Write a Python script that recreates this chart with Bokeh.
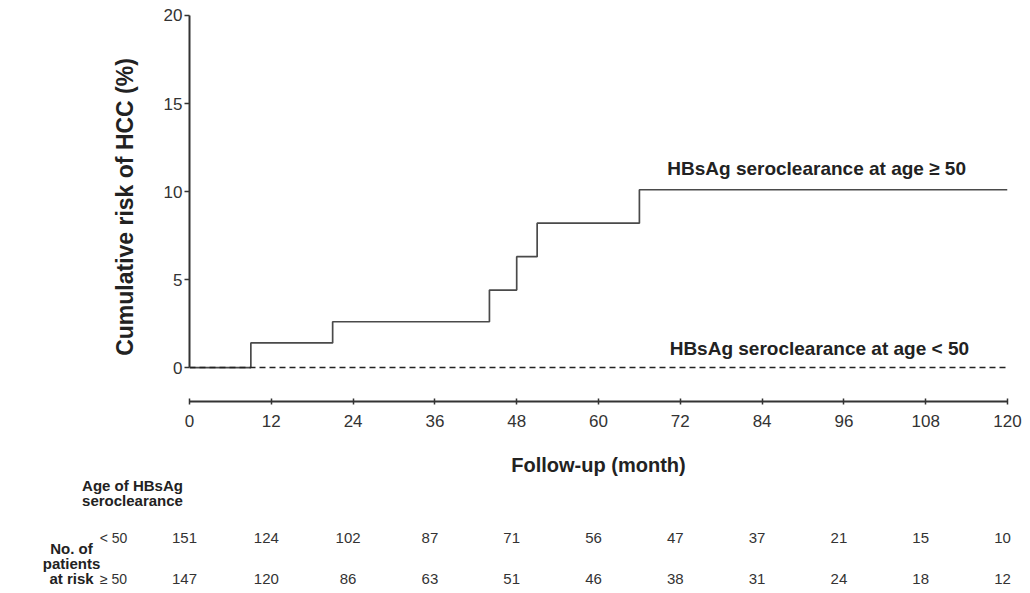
from bokeh.plotting import figure
from bokeh.models import Range1d, FixedTicker, Label
from bokeh.embed import file_html
from bokeh.resources import INLINE
from bokeh.core.properties import value

# ---------------- data ----------------
month_ticks = [0, 12, 24, 36, 48, 60, 72, 84, 96, 108, 120]
risk_ticks = [0, 5, 10, 15, 20]

ge50_time = [0, 9, 21, 44, 48, 51, 66, 120]
ge50_risk = [0, 1.4, 2.6, 4.4, 6.3, 8.2, 10.1, 10.1]

lt50_time = [0, 120]
lt50_risk = [0, 0]

at_risk_lt50 = [151, 124, 102, 87, 71, 56, 47, 37, 21, 15, 10]
at_risk_ge50 = [147, 120, 86, 63, 51, 46, 38, 31, 24, 18, 12]

label_ge50 = "HBsAg seroclearance at age \u2265 50"
label_lt50 = "HBsAg seroclearance at age < 50"
row_labels = ["< 50", "\u2265 50"]
group_title = ["Age of HBsAg", "seroclearance"]
risk_title = ["No. of", "patients", "at risk"]

FONT = "Liberation Sans"

# ---------------- geometry (page pixels) ----------------
W = 1022
H_MAIN = 478
H_TAB = 112
F_LEFT, F_RIGHT, F_TOP, F_BOTTOM = 189, 1007, 12, 401
X0, X1 = 0, 120
Y0, Y1 = -1.93, 20.17
XS = (F_RIGHT - F_LEFT) / (X1 - X0)


def xd(xpage):
    return X0 + (xpage - F_LEFT) / XS


# ---------------- main chart ----------------
p = figure(width=W, height=H_MAIN, x_range=Range1d(X0, X1), y_range=Range1d(Y0, Y1),
           output_backend="svg", toolbar_location=None,
           min_border_left=F_LEFT, min_border_right=W - F_RIGHT,
           min_border_top=F_TOP, min_border_bottom=H_MAIN - F_BOTTOM)
p.outline_line_color = None
p.xgrid.visible = False
p.ygrid.visible = False

p.step(ge50_time, ge50_risk, mode="after", line_color="#4a4a4a", line_width=1.7)
p.line(lt50_time, lt50_risk, line_color="#222222", line_width=1.6, line_dash="6 4")

p.add_layout(Label(x=92, y=11.3, text=label_ge50, text_align="center", text_baseline="middle",
                   text_font=FONT, text_font_size="19px", text_font_style="bold", text_color="#222222"))
p.add_layout(Label(x=92.4, y=1.08, text=label_lt50, text_align="center", text_baseline="middle",
                   text_font=FONT, text_font_size="19px", text_font_style="bold", text_color="#222222"))

xa = p.xaxis[0]
xa.bounds = (0, 120)
xa.ticker = FixedTicker(ticks=month_ticks)
xa.axis_line_color = "#333333"
xa.axis_line_width = 2
xa.major_tick_line_color = "#333333"
xa.major_tick_line_width = 1.5
xa.major_tick_in = 3
xa.major_tick_out = 3
xa.minor_tick_line_color = None
xa.major_label_text_font = FONT
xa.major_label_text_font_size = "17px"
xa.major_label_text_color = "#333333"
xa.major_label_standoff = 10
xa.axis_label = "Follow-up (month)"
xa.axis_label_text_font = FONT
xa.axis_label_text_font_size = "20px"
xa.axis_label_text_font_style = "bold"
xa.axis_label_text_color = "#222222"
xa.axis_label_standoff = 24

ya = p.yaxis[0]
ya.bounds = (0, 20)
ya.ticker = FixedTicker(ticks=risk_ticks)
ya.axis_line_color = "#333333"
ya.axis_line_width = 2
ya.major_tick_line_color = "#333333"
ya.major_tick_line_width = 1.5
ya.major_tick_in = 0
ya.major_tick_out = 5
ya.minor_tick_line_color = None
ya.major_label_text_font = FONT
ya.major_label_text_font_size = "17px"
ya.major_label_text_color = "#333333"
ya.major_label_standoff = 2
ya.axis_label = "Cumulative risk of HCC (%)"
ya.axis_label_text_font = FONT
ya.axis_label_text_font_size = "23px"
ya.axis_label_text_font_style = "bold"
ya.axis_label_text_color = "#222222"
ya.axis_label_standoff = 23

# ---------------- number-at-risk table (separate root, same x scale) ----------------
TOP_TAB = H_MAIN
t = figure(width=W, height=H_TAB, x_range=Range1d(xd(0), xd(W)),
           y_range=Range1d(TOP_TAB + H_TAB, TOP_TAB),
           output_backend="svg", toolbar_location=None,
           x_axis_location=None, y_axis_location=None,
           min_border_left=0, min_border_right=0, min_border_top=0, min_border_bottom=0)
t.outline_line_color = None
t.xgrid.visible = False
t.ygrid.visible = False

ROW1, ROW2 = 537, 578
num_style = dict(text_font=value(FONT), text_font_size="15px", text_color="#333333",
                 text_align="center", text_baseline="middle", x_offset=-5)
t.text(x=month_ticks, y=[ROW1] * len(month_ticks), text=[str(v) for v in at_risk_lt50], **num_style)
t.text(x=month_ticks, y=[ROW2] * len(month_ticks), text=[str(v) for v in at_risk_ge50], **num_style)

row_style = dict(text_font=value(FONT), text_font_size="14px", text_color="#333333",
                 text_align="center", text_baseline="middle")
t.text(x=[xd(113), xd(113)], y=[ROW1, ROW2], text=row_labels, **row_style)

bold_style = dict(text_font=value(FONT), text_font_size="15px", text_font_style="bold",
                  text_color="#222222", text_align="center", text_baseline="middle")
t.text(x=[xd(132)] * 2, y=[485, 500], text=group_title, **bold_style)
t.text(x=[xd(71)] * 3, y=[548, 563, 578], text=risk_title, **bold_style)

open("out.html", "w").write(file_html([p, t], INLINE))
